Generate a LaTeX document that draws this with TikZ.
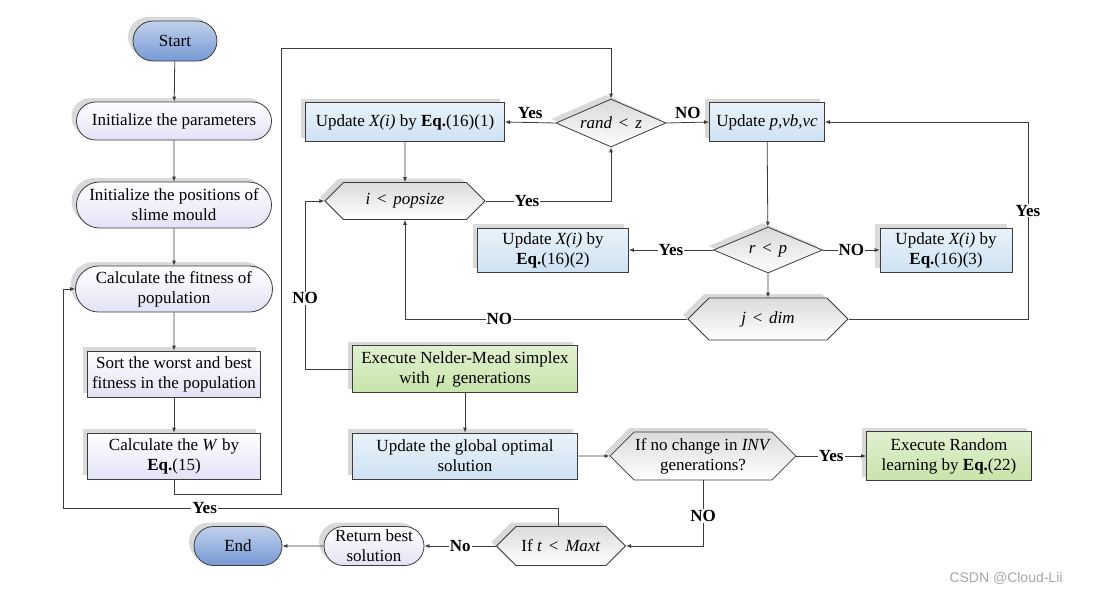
\documentclass[tikz,border=0pt]{standalone}
\usepackage{fontspec}
\setmainfont{Liberation Serif}
\newfontfamily\marksans{Liberation Sans}
\usetikzlibrary{shapes.geometric,shapes.misc,shapes.symbols,arrows.meta,shadows}

\definecolor{termblue}{RGB}{118,152,212}
\definecolor{lavender}{RGB}{226,226,246}
\definecolor{boxblue}{RGB}{206,226,243}
\definecolor{boxgreen}{RGB}{200,228,170}
\definecolor{linegray}{RGB}{60,60,60}

% less-than with wide spaces, as in the conditions
\newcommand{\ltsign}{\hspace{0.4em}<\hspace{0.4em}}

\tikzset{
  base/.style={draw=linegray,line width=0.8pt,align=center,inner sep=1pt,
    general shadow={shadow xshift=-5pt,shadow yshift=4pt,fill=black,opacity=0.15}},
  terminal/.style={base,rounded rectangle,top color=termblue!45!white,bottom color=termblue},
  roundbox/.style={base,rounded rectangle,top color=white,bottom color=lavender},
  lavbox/.style={base,rectangle,top color=white,bottom color=lavender},
  bluebox/.style={base,rectangle,top color=boxblue!45!white,bottom color=boxblue},
  greenbox/.style={base,rectangle,top color=boxgreen!55!white,bottom color=boxgreen},
  hexbox/.style={base,signal,signal to=west and east,top color=gray!28,bottom color=white},
  decide/.style={base,diamond,aspect=2.3,inner sep=0pt,top color=gray!30,bottom color=white},
  conn/.style={draw=linegray,line width=0.8pt,-{Latex[length=5pt,width=4pt]}},
  lbl/.style={fill=white,inner sep=1pt,font=\fontsize{17}{19}\selectfont\bfseries},
  lblabove/.style={above=2pt,inner sep=1pt,font=\fontsize{17}{19}\selectfont\bfseries}
}

\begin{document}
\begin{tikzpicture}[x=1pt,y=1pt,font=\fontsize{17}{20}\selectfont]
  \useasboundingbox (0,0) rectangle (1093,-595);

  % left column
  \node[terminal,minimum width=86,minimum height=40] (start) at (175,-41) {Start};
  \node[roundbox,minimum width=197,minimum height=38] (init) at (174,-121) {Initialize the parameters};
  \node[roundbox,minimum width=197,minimum height=46] (pos) at (174,-205) {Initialize the positions of\\slime mould};
  \node[roundbox,minimum width=199,minimum height=46] (fit) at (174,-289) {Calculate the fitness of\\population};
  \node[lavbox,minimum width=173,minimum height=46] (sort) at (174,-374) {Sort the worst and best\\fitness in the population};
  \node[lavbox,minimum width=173,minimum height=46] (wcalc) at (174,-456) {Calculate the \textit{W} by\\\textbf{Eq.}(15)};

  % inner loop
  \node[decide,minimum width=110,minimum height=48] (rz) at (611,-123) {\textit{rand}\ltsign\textit{z}};
  \node[bluebox,minimum width=199,minimum height=39] (up1) at (405,-122) {Update \textit{X(i)} by \textbf{Eq.}(16)(1)};
  \node[bluebox,minimum width=115,minimum height=39] (upp) at (767,-122) {Update \textit{p,vb,vc}};
  \node[hexbox,minimum width=160,minimum height=37] (ipop) at (405,-201) {\textit{i}\ltsign\textit{popsize}};
  \node[decide,minimum width=109,minimum height=46] (rp) at (768,-250) {\textit{r}\ltsign\textit{p}};
  \node[bluebox,minimum width=151,minimum height=44] (up2) at (553,-250) {Update \textit{X(i)} by\\\textbf{Eq.}(16)(2)};
  \node[bluebox,minimum width=132,minimum height=44] (up3) at (946,-250) {Update \textit{X(i)} by\\\textbf{Eq.}(16)(3)};
  \node[hexbox,minimum width=160,minimum height=42] (jdim) at (768,-319) {\textit{j}\ltsign\textit{dim}};

  % lower part
  \node[greenbox,minimum width=225,minimum height=47] (nm) at (465,-369) {Execute Nelder-Mead simplex\\with \,\textit{μ}\, generations};
  \node[bluebox,minimum width=225,minimum height=46] (glob) at (465,-456) {Update the global optimal\\solution};
  \node[hexbox,minimum width=181,minimum height=48] (inv) at (703,-456) {If no change in \textit{INV}\\generations?};
  \node[greenbox,minimum width=165,minimum height=49] (rnd) at (949,-456) {Execute Random\\learning by \textbf{Eq.}(22)};
  \node[hexbox,minimum width=129,minimum height=39] (tmax) at (561,-546) {If \textit{t}\ltsign\textit{Maxt}};
  \node[roundbox,minimum width=102,minimum height=39] (ret) at (374,-546) {Return best\\solution};
  \node[terminal,minimum width=90,minimum height=39] (end) at (238,-546) {End};

  % connectors, left column
  \draw[conn] (start) -- (init);
  \draw[conn] (init) -- (pos);
  \draw[conn] (pos) -- (fit);
  \draw[conn] (fit) -- (sort);
  \draw[conn] (sort) -- (wcalc);
  \draw[conn] (wcalc.south) |- (281,-494) |- (611,-48) -- (rz.north);

  % connectors, inner loop
  \draw[conn] (rz.west) -- node[lblabove]{Yes} (up1.east);
  \draw[conn] (rz.east) -- node[lblabove]{NO} (upp.west);
  \draw[conn] (up1) -- (ipop);
  \draw[conn] (ipop.east) -- node[lbl,pos=0.33]{Yes} (ipop.east -| rz.south) -- (rz.south);
  \draw[conn] (upp) -- (rp);
  \draw[conn] (rp.west) -- node[lbl]{Yes} (up2.east);
  \draw[conn] (rp.east) -- node[lbl]{NO} (up3.west);
  \draw[conn] (rp) -- (jdim);
  \draw[conn] (jdim.east) -- (1028,-319) |- node[lbl,pos=0.275]{Yes} (upp.east);
  \draw[conn] (jdim.west) -| node[lbl,pos=0.333]{NO} (ipop.south);
  \draw[conn,{Latex[length=5pt,width=4pt]}-] (ipop.west) -- (305,-201) |- node[lbl,pos=0.29]{NO} (nm.west);

  % connectors, lower part
  \draw[conn] (nm) -- (glob);
  \draw[conn] (glob) -- (inv);
  \draw[conn] (inv.east) -- node[lbl]{Yes} (rnd.west);
  \draw[conn] (inv.south) |- node[lbl,pos=0.27]{NO} (tmax.east);
  \draw[conn] (tmax.west) -- node[lbl]{No} (ret.east);
  \draw[conn] (ret) -- (end);
  \draw[conn] ([xshift=-3pt]tmax.north) |- node[lbl,pos=0.857]{Yes} (63,-508) |- (fit.west);

  \node[text=gray!70,font=\marksans\fontsize{14}{16}\selectfont] (mark) at (1006,-578) {CSDN @Cloud-Lii};
\end{tikzpicture}
\end{document}
